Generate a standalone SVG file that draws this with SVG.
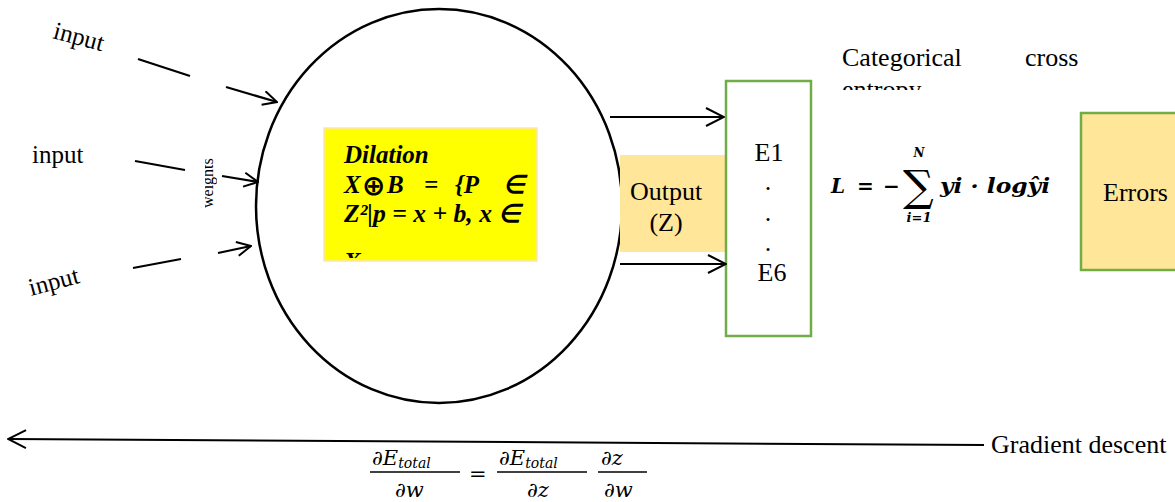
<svg xmlns="http://www.w3.org/2000/svg" width="1175" height="502" viewBox="0 0 1175 502">
<style>
.t{font-family:"Liberation Serif","Times New Roman",serif;fill:#000}
.bi{font-family:"Liberation Serif","Times New Roman",serif;font-weight:bold;font-style:italic;fill:#000;font-size:25px}
.m{font-family:"DejaVu Serif","Liberation Serif",serif;font-weight:bold;font-style:italic;fill:#000}
.mr{font-family:"DejaVu Serif","Liberation Serif",serif;font-style:italic;fill:#000}
.ln{stroke:#000;stroke-width:2;fill:none}
.dash{stroke:#000;stroke-width:2.2;fill:none}
</style>
<defs>
<marker id="ah" viewBox="0 0 16 16" refX="15" refY="8" markerWidth="16" markerHeight="16" markerUnits="userSpaceOnUse" orient="auto">
<path d="M1,1 L15,8 L1,15" fill="none" stroke="#000" stroke-width="2"/>
</marker>
<marker id="ah2" viewBox="0 0 20 20" refX="19" refY="10" markerWidth="20" markerHeight="20" markerUnits="userSpaceOnUse" orient="auto">
<path d="M1,1 L19,10 L1,19" fill="none" stroke="#000" stroke-width="2"/>
</marker>
<clipPath id="ybox"><rect x="324" y="128" width="214" height="130"/></clipPath>
<clipPath id="wclip"><rect x="205" y="145" width="12" height="70"/></clipPath>
<clipPath id="cclip"><rect x="830" y="40" width="280" height="50"/></clipPath>
</defs>
<rect width="1175" height="502" fill="#fff"/>

<g id="neuron">
<ellipse cx="439" cy="206" rx="183" ry="197" fill="#fff" stroke="#000" stroke-width="2.5"/>
</g>

<g id="inputs">
<text class="t" font-size="25" transform="translate(52,38) rotate(15)">input</text>
<text class="t" font-size="25" x="32" y="163">input</text>
<text class="t" font-size="25" transform="translate(31,296) rotate(-15)">input</text>
</g>

<g id="weights" clip-path="url(#wclip)">
<text class="t" font-size="16" fill="#333" transform="translate(213,208) rotate(-90)">weights</text>
</g>

<g id="dilation">
<rect x="324" y="128" width="213" height="133" fill="#ffff00" stroke="#fde4b8" stroke-width="1.5"/>
<g clip-path="url(#ybox)">
<text class="bi" x="344" y="163">Dilation</text>
<text class="bi" y="193"><tspan x="344">X</tspan><tspan x="362" y="195" font-family="DejaVu Sans" font-style="normal" font-weight="bold" font-size="28">⊕</tspan><tspan x="387" y="193">B</tspan><tspan x="424">=</tspan><tspan x="455">{P</tspan><tspan x="503">∈</tspan></text>
<text class="bi" x="344" y="222" textLength="177" lengthAdjust="spacingAndGlyphs">Z²|p = x + b, x ∈</text>
<text class="bi" x="344" y="270">X</text>
</g>
</g>

<g id="output">
<rect x="620" y="155" width="106" height="97" fill="#ffe699"/>
<text class="t" font-size="26" x="666" y="200" text-anchor="middle">Output</text>
<text class="t" font-size="26" x="666" y="231" text-anchor="middle">(Z)</text>
</g>

<g id="e-box">
<rect x="726" y="81" width="85" height="255" fill="#fff" stroke="#70ad47" stroke-width="2.5"/>
<text class="t" font-size="26" x="769" y="161" text-anchor="middle">E1</text>
<text class="t" font-size="26" x="768" y="190" text-anchor="middle">.</text>
<text class="t" font-size="26" x="768" y="221" text-anchor="middle">.</text>
<text class="t" font-size="26" x="768" y="251" text-anchor="middle">.</text>
<text class="t" font-size="26" x="772" y="281" text-anchor="middle">E6</text>
</g>

<g id="loss-label">
<text class="t" font-size="26" x="842" y="66">Categorical</text>
<text class="t" font-size="26" x="1025" y="66">cross</text>
<g clip-path="url(#cclip)"><text class="t" font-size="26" x="842" y="98">entropy</text></g>
</g>

<g id="loss-formula">
<text class="m" font-size="20" x="831" y="193">L</text>
<text class="m" font-size="20" x="857" y="193" font-style="normal">=</text>
<text class="m" font-size="20" x="883" y="193" font-style="normal">−</text>
<text font-family="DejaVu Serif,serif" font-size="43" x="903" y="201">∑</text>
<text class="m" font-size="12" x="919" y="157" text-anchor="middle">N</text>
<text class="m" font-size="13" x="919" y="222" text-anchor="middle">i=1</text>
<text class="m" font-size="20" x="940" y="193" textLength="110" lengthAdjust="spacingAndGlyphs">yi · logŷi</text>
</g>

<g id="errors">
<rect x="1081" y="113" width="100" height="157" fill="#ffe699" stroke="#70ad47" stroke-width="2.5"/>
<text class="t" font-size="26" x="1103" y="201">Errors</text>
</g>

<g id="connectors">
<path class="dash" d="M138,59 L190,76"/>
<path class="dash" d="M226,87 L277,102" marker-end="url(#ah)"/>
<path class="dash" d="M135,161 L185,170"/>
<path class="dash" d="M222,176 L258,182" marker-end="url(#ah)"/>
<path class="dash" d="M133,268 L181,259"/>
<path class="dash" d="M218,253 L251,246" marker-end="url(#ah)"/>
<path class="ln" d="M610,117 L724,117" marker-end="url(#ah2)"/>
<path class="ln" d="M620,264 L726,264" marker-end="url(#ah2)"/>
<path class="ln" d="M984,445 L8,439" stroke-width="2.5" marker-end="url(#ah2)"/>
</g>

<g id="gradient-label">
<text class="t" font-size="26" x="991" y="453">Gradient descent</text>
</g>

<g id="gradient-formula">
<text class="mr" font-size="21" x="372" y="465">∂E<tspan font-size="14" dy="3">total</tspan></text>
<line x1="370" y1="472" x2="460" y2="472" stroke="#000" stroke-width="1.3"/>
<text class="mr" font-size="21" x="395" y="497">∂w</text>
<text class="mr" font-size="21" x="469" y="481" font-style="normal">=</text>
<text class="mr" font-size="21" x="499" y="465">∂E<tspan font-size="14" dy="3">total</tspan></text>
<line x1="497" y1="472" x2="587" y2="472" stroke="#000" stroke-width="1.3"/>
<text class="mr" font-size="21" x="527" y="497">∂z</text>
<text class="mr" font-size="21" x="601" y="465">∂z</text>
<line x1="598" y1="472" x2="647" y2="472" stroke="#000" stroke-width="1.3"/>
<text class="mr" font-size="21" x="604" y="497">∂w</text>
</g>
</svg>
